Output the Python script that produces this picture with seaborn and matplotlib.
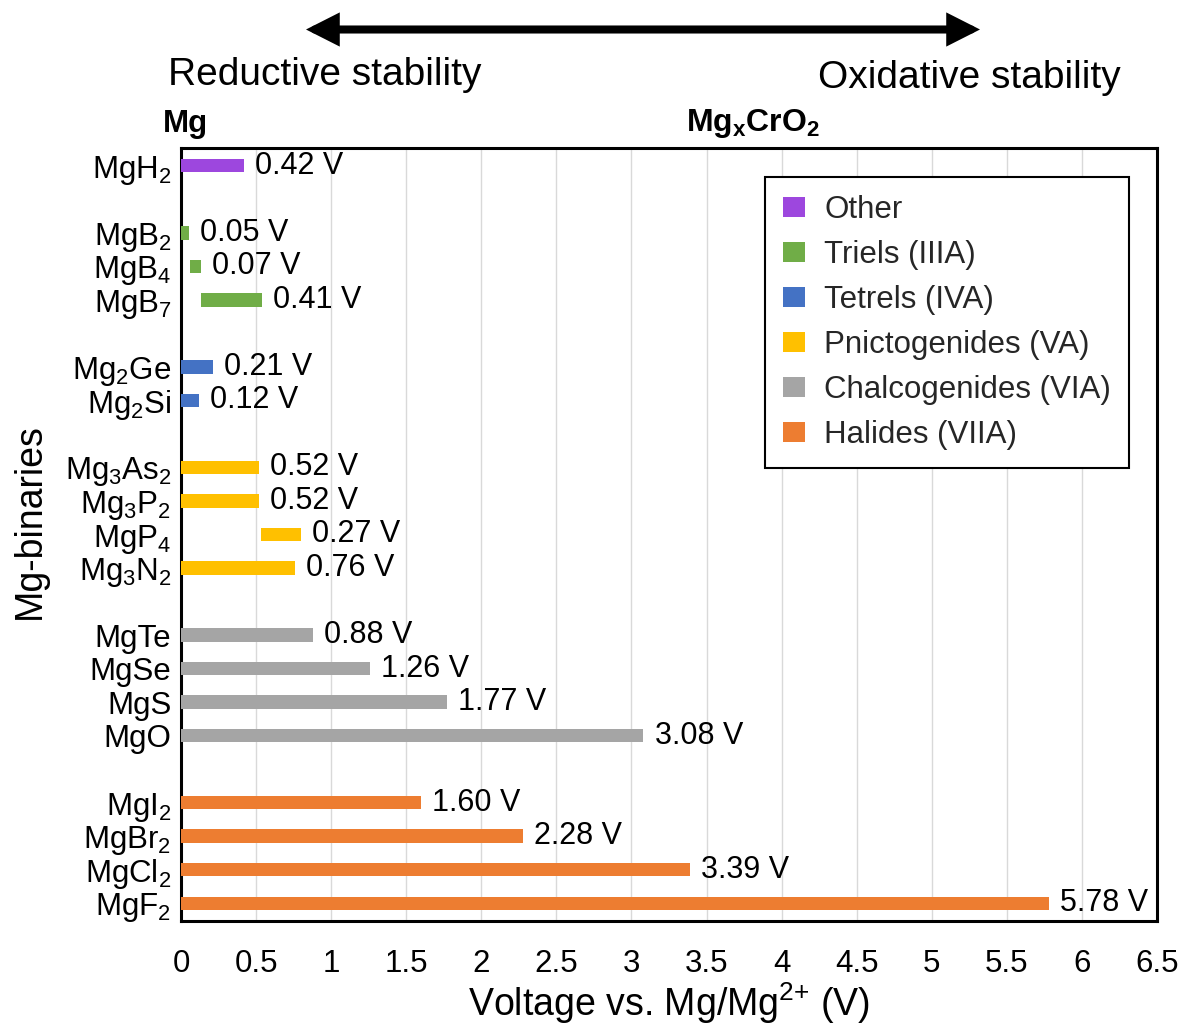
import numpy as np
import pandas as pd
import matplotlib
matplotlib.use("Agg")
import matplotlib.pyplot as plt
from matplotlib.patches import Patch, FancyArrowPatch
import seaborn as sns

# ---------------- data ----------------
compounds = ["MgH$_2$", "MgB$_2$", "MgB$_4$", "MgB$_7$", "Mg$_2$Ge", "Mg$_2$Si",
             "Mg$_3$As$_2$", "Mg$_3$P$_2$", "MgP$_4$", "Mg$_3$N$_2$",
             "MgTe", "MgSe", "MgS", "MgO",
             "MgI$_2$", "MgBr$_2$", "MgCl$_2$", "MgF$_2$"]
groups = ["Other", "Triels (IIIA)", "Triels (IIIA)", "Triels (IIIA)",
          "Tetrels (IVA)", "Tetrels (IVA)",
          "Pnictogenides (VA)", "Pnictogenides (VA)", "Pnictogenides (VA)", "Pnictogenides (VA)",
          "Chalcogenides (VIA)", "Chalcogenides (VIA)", "Chalcogenides (VIA)", "Chalcogenides (VIA)",
          "Halides (VIIA)", "Halides (VIIA)", "Halides (VIIA)", "Halides (VIIA)"]
start_v = [0.0, 0.0, 0.06, 0.13, 0.0, 0.0,
           0.0, 0.0, 0.53, 0.0,
           0.0, 0.0, 0.0, 0.0,
           0.0, 0.0, 0.0, 0.0]
window_v = [0.42, 0.05, 0.07, 0.41, 0.21, 0.12,
            0.52, 0.52, 0.27, 0.76,
            0.88, 1.26, 1.77, 3.08,
            1.60, 2.28, 3.39, 5.78]
group_names = ["Other", "Triels (IIIA)", "Tetrels (IVA)", "Pnictogenides (VA)",
               "Chalcogenides (VIA)", "Halides (VIIA)"]
group_colors = ["#9D47DE", "#70AD47", "#4472C4", "#FFC000", "#A5A5A5", "#ED7D31"]
xticks = [0, 0.5, 1, 1.5, 2, 2.5, 3, 3.5, 4, 4.5, 5, 5.5, 6, 6.5]
xtick_labels = ["0", "0.5", "1", "1.5", "2", "2.5", "3", "3.5", "4", "4.5",
                "5", "5.5", "6", "6.5"]

# ---------------- style ----------------
sns.set_theme(style="white")
plt.rcParams["font.family"] = ["Liberation Sans", "DejaVu Sans"]
plt.rcParams["mathtext.default"] = "regular"

# row positions with a blank row between groups
pos = []
p = 0
for i, g in enumerate(groups):
    if i > 0 and g != groups[i - 1]:
        p += 1
    pos.append(p)
    p += 1

df = pd.DataFrame({"compound": compounds, "group": groups, "start": start_v,
                   "window": window_v, "pos": pos})
color_of = dict(zip(group_names, group_colors))

fig = plt.figure(figsize=(11.83, 10.25), dpi=100)
ax = fig.add_axes([181 / 1183, 1 - 921 / 1025, (1157 - 181) / 1183, (921 - 148) / 1025])

for _, r in df.iterrows():
    sns.barplot(x=[r["window"]], y=[r["pos"]], orient="y", native_scale=True,
                color=color_of[r["group"]], saturation=1, width=0.4,
                left=r["start"], ax=ax, zorder=3, linewidth=0)
    ax.annotate(f"{r['window']:.2f} V", xy=(r["start"] + r["window"], r["pos"]),
                xytext=(8, 0), textcoords="offset points", ha="left", va="center",
                fontsize=22, color="black")

ax.set_xlim(0, 6.5)
ax.set_ylim(22.53, -0.53)
ax.set_xticks(xticks)
ax.set_xticklabels(xtick_labels, fontsize=22.5)
ax.set_yticks(df["pos"])
ax.set_yticklabels(df["compound"], fontsize=22.5)
ax.tick_params(axis="x", length=0, pad=20, colors="black")
ax.tick_params(axis="y", length=0, pad=7, colors="black")
ax.xaxis.grid(True, color="#d9d9d9", linewidth=1, zorder=0)
ax.yaxis.grid(False)
ax.set_axisbelow(True)
for s in ax.spines.values():
    s.set_visible(True)
    s.set_color("black")
    s.set_linewidth(2.2)

ax.set_xlabel("Voltage vs. Mg/Mg$^{2{+}}$ (V)", fontsize=27, color="black", labelpad=1)
ax.set_ylabel("Mg-binaries", fontsize=27, color="black")
ax.yaxis.set_label_coords(-0.136, 0.517)

handles = [Patch(facecolor=c, edgecolor="none", label=n) for n, c in zip(group_names, group_colors)]
leg = ax.legend(handles=handles, loc="upper left", bbox_to_anchor=(0.598, 0.9625),
                borderaxespad=0, fontsize=22.5, frameon=True, fancybox=False,
                handlelength=0.7, handleheight=0.58, handletextpad=0.62,
                labelspacing=0.48, borderpad=0.58)
leg.get_frame().set_edgecolor("black")
leg.get_frame().set_linewidth(1.5)
leg.get_frame().set_alpha(1)

# top annotations
fig.text(168 / 1183, 1 - 75 / 1025, "Reductive stability", fontsize=28,
         ha="left", va="center", color="black")
fig.text(818 / 1183, 1 - 78 / 1025, "Oxidative stability", fontsize=28,
         ha="left", va="center", color="black")
fig.text(163 / 1183, 1 - 124 / 1025, "Mg", fontsize=22.5, fontweight="bold",
         ha="left", va="center", color="black")
fig.text(686 / 1183, 1 - 124 / 1025, "Mg$_x$CrO$_2$", fontsize=23, fontweight="bold",
         ha="left", va="center", color="black")
arrow = FancyArrowPatch((306 / 1183, 1 - 29.5 / 1025), (980 / 1183, 1 - 29.5 / 1025),
                        transform=fig.transFigure, shrinkA=0, shrinkB=0,
                        arrowstyle="<|-|>,head_length=0.75,head_width=0.38",
                        mutation_scale=20, lw=5.8, color="black", joinstyle="miter")
fig.add_artist(arrow)

fig.savefig("out.png", dpi=100)
